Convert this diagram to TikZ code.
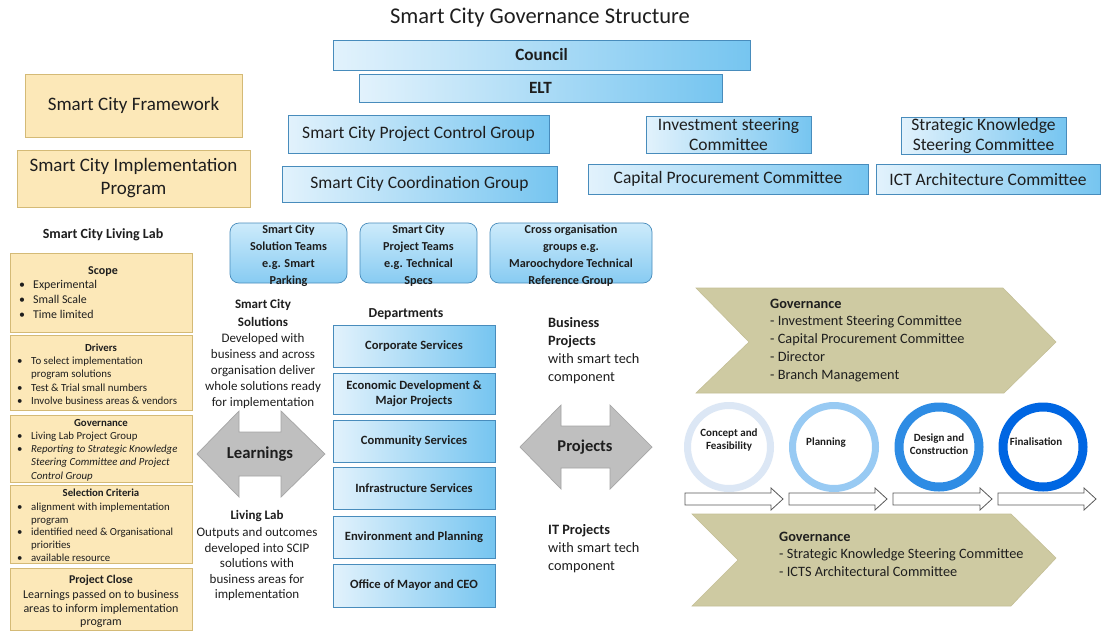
\documentclass[tikz,border=0pt]{standalone}
\usepackage{fontspec}
\setmainfont{Carlito}
\definecolor{bL}{RGB}{226,242,252}
\definecolor{bR}{RGB}{118,197,240}
\definecolor{bD}{RGB}{72,140,188}
\definecolor{tT}{RGB}{205,235,251}
\definecolor{tB}{RGB}{135,203,242}
\definecolor{yF}{RGB}{252,232,184}
\definecolor{yD}{RGB}{212,186,118}
\definecolor{gF}{RGB}{191,191,191}
\definecolor{gD}{RGB}{165,165,165}
\definecolor{oF}{RGB}{206,202,162}
\definecolor{oD}{RGB}{196,191,150}
\definecolor{cA}{RGB}{220,231,245}
\definecolor{cB}{RGB}{152,202,243}
\definecolor{cC}{RGB}{46,140,228}
\definecolor{cD}{RGB}{0,102,226}
\definecolor{txt}{RGB}{30,30,30}
\newcommand\fsz[2]{\fontsize{#1}{#2}\selectfont}
\newcommand\bul{\makebox[14pt][l]{\textbullet}}
\newcommand\ind{\hspace*{14pt}}
\begin{document}
\begin{tikzpicture}[x=1pt,y=-1pt,
  every node/.style={text=txt},
  bluebox/.style={draw=bD, line width=0.7pt, left color=bL, right color=bR, inner sep=0pt, align=center, font=\fsz{17.5}{20}},
  ybox/.style={draw=yD, line width=0.7pt, fill=yF, inner sep=0pt, align=center},
  team/.style={draw=bD, line width=0.7pt, rounded corners=9pt, top color=tT, bottom color=tB, inner sep=0pt, minimum height=60},
  teamtext/.style={align=center, inner sep=0pt, font=\bfseries\fsz{12.2}{17}},
  dept/.style={draw=bD, line width=0.7pt, left color=bL, right color=bR, minimum width=162, inner sep=0pt, align=center, font=\bfseries\fsz{12.6}{15}},
  lst/.style={anchor=north west, align=left, inner sep=0pt},
  ttl/.style={font=\bfseries\fsz{10.8}{12}, inner sep=0pt},
  bigarrow/.style={draw=gD, line width=0.7pt, fill=gF},
  hollow/.style={draw=black!65, line width=0.8pt, fill=white},
  chev/.style={draw=oD, line width=0.6pt, fill=oF},
  ring/.style={circle, inner sep=0pt, minimum size=#1},
  ctext/.style={align=center, font=\bfseries\fsz{11}{13}, inner sep=0pt}
]
\useasboundingbox[fill=white] (0,0) rectangle (1106,635);

% Title
\node[font=\fsz{22.5}{25}] (title) at (540,18) {Smart City Governance Structure};

% Governance hierarchy
\node[bluebox, minimum width=417, minimum height=30, font=\bfseries\fsz{17.2}{19}] (council) at (541.5,55) {Council};
\node[bluebox, minimum width=363, minimum height=28, font=\bfseries\fsz{17.2}{19}] (elt) at (540.5,88) {ELT};
\node[bluebox, minimum width=261, minimum height=38] (pcg) at (418.5,134) {Smart City Project Control Group};
\node[bluebox, minimum width=275, minimum height=36] (cg) at (419.5,184) {Smart City Coordination Group};
\node[bluebox, minimum width=165, minimum height=37] (isc) at (728.5,134.5) {Investment steering\\Committee};
\node[bluebox, minimum width=165, minimum height=37] (sksc) at (983.5,135.5) {Strategic Knowledge\\Steering Committee};
\node[bluebox, minimum width=280, minimum height=30] (cpc) at (728,179) {Capital Procurement Committee};
\node[bluebox, minimum width=224, minimum height=30] (ict) at (988,179) {ICT Architecture Committee};

% Framework boxes
\node[ybox, minimum width=217, minimum height=63, font=\fsz{19}{23}] (fw) at (133.5,105.5) {Smart City Framework};
\node[ybox, minimum width=233, minimum height=57, font=\fsz{19}{23}] (imp) at (133.5,178.5) {Smart City Implementation\\Program};

% Teams
\node[team, minimum width=117] (solt) at (288.5,253) {};
\node[team, minimum width=117] (prot) at (418.5,253) {};
\node[team, minimum width=162] (cross) at (571,253) {};
\node[teamtext] (soltt) at (288.5,255.5) {Smart City\\Solution Teams\\e.g. Smart\\Parking};
\node[teamtext] (prott) at (418.5,255.5) {Smart City\\Project Teams\\e.g. Technical\\Specs};
\node[teamtext] (crosst) at (571,255.5) {Cross organisation\\groups e.g.\\Maroochydore Technical\\Reference Group};

% Living lab column
\node[font=\bfseries\fsz{14}{16}] (lltitle) at (103,235) {Smart City Living Lab};
\node[ybox, minimum width=182, minimum height=79] (scope) at (101,292.5) {};
\node[ttl, font=\bfseries\fsz{12}{13}] (scopet) at (103,272) {Scope};
\node[lst, font=\fsz{11.9}{14.6}] (scopel) at (19,280.5) {\bul Experimental\\\bul Small Scale\\\bul Time limited};

\node[ybox, minimum width=182, minimum height=75] (drv) at (101,372.5) {};
\node[ttl] (drvt) at (101,348) {Drivers};
\node[lst, font=\fsz{10.9}{13.4}] (drvl) at (17,356.5) {\bul To select implementation\\\ind program solutions\\\bul Test \& Trial small numbers\\\bul Involve business areas \& vendors};

\node[ybox, minimum width=182, minimum height=67] (gov) at (101,448.5) {};
\node[ttl] (govt) at (101,423) {Governance};
\node[lst, font=\fsz{10.8}{13.1}] (govl) at (17,432) {\bul Living Lab Project Group\\\bul \textit{Reporting to Strategic Knowledge}\\\ind\textit{Steering Committee and Project}\\\ind\textit{Control Group}};

\node[ybox, minimum width=182, minimum height=78] (sel) at (101,524) {};
\node[ttl] (selt) at (101,493) {Selection Criteria};
\node[lst, font=\fsz{10.8}{12.6}] (sell) at (17,503) {\bul alignment with implementation\\\ind program\\\bul identified need \& Organisational\\\ind priorities\\\bul available resource};

\node[ybox, minimum width=182, minimum height=62] (pc) at (101,599) {};
\node[ttl, font=\bfseries\fsz{11.9}{13}] (pct) at (101,580) {Project Close};
\node[align=center, inner sep=0pt, font=\fsz{12}{13.5}] (pcl) at (101,609) {Learnings passed on to business\\areas to inform implementation\\program};

% Solutions / Living lab texts
\node[align=center, inner sep=0pt, font=\fsz{13}{16}] (sol) at (263,354) {{\bfseries Smart City}\\[2pt]{\bfseries Solutions}\\[0pt]Developed with\\business and across\\organisation deliver\\whole solutions ready\\for implementation};
\node[align=center, inner sep=0pt, font=\fsz{13}{15.5}] (ll) at (257,555.5) {{\bfseries Living Lab}\\[1.5pt]Outputs and outcomes\\developed into SCIP\\solutions with\\business areas for\\implementation};

% Learnings arrow
\draw[bigarrow] (197,454) -- (239,411) -- (239,432) -- (281,432) -- (281,411) -- (325,454) -- (281,497) -- (281,476) -- (239,476) -- (239,497) -- cycle;
\node[font=\bfseries\fsz{16.7}{18}] (learn) at (260,454) {Learnings};

% Departments
\node[font=\bfseries\fsz{13.7}{15}] (deptt) at (406,314) {Departments};
\node[dept, minimum height=42] (d1) at (414,346) {Corporate Services};
\node[dept, minimum height=41] (d2) at (414,393.5) {Economic Development \&\\Major Projects};
\node[dept, minimum height=42] (d3) at (414,441) {Community Services};
\node[dept, minimum height=42] (d4) at (414,488) {Infrastructure Services};
\node[dept, minimum height=42] (d5) at (414,537) {Environment and Planning};
\node[dept, minimum height=43] (d6) at (414,585.5) {Office of Mayor and CEO};

% Projects arrow
\draw[bigarrow] (520,447) -- (561,405) -- (561,426) -- (610,426) -- (610,405) -- (652,447) -- (610,489) -- (610,468) -- (561,468) -- (561,489) -- cycle;
\node[font=\bfseries\fsz{16.5}{18}] (proj) at (585,447) {Projects};

\node[lst, font=\fsz{14.3}{18}] (bp) at (548,317.5) {{\bfseries Business}\\{\bfseries Projects}\\with smart tech\\component};
\node[lst, font=\fsz{14.3}{18}] (itp) at (548,524.5) {{\bfseries IT Projects}\\with smart tech\\component};

% Chevrons
\draw[chev] (696,288) -- (1003,288) -- (1056,342) -- (1004,393) -- (696,393) -- (749,342) -- cycle;
\node[lst, font=\fsz{14.3}{17.8}] (govtop) at (770,298.5) {{\bfseries Governance}\\- Investment Steering Committee\\- Capital Procurement Committee\\- Director\\- Branch Management};
\draw[chev] (692,514) -- (1011,514) -- (1056,558) -- (1011,606) -- (692,606) -- (738,560) -- cycle;
\node[lst, font=\fsz{14.3}{17.5}] (govbot) at (779,531.5) {{\bfseries Governance}\\- Strategic Knowledge Steering Committee\\- ICTS Architectural Committee};

% Stage rings
\node[ring=83, draw=cA, line width=7pt] (s1) at (729,447) {};
\node[ring=83, draw=cB, line width=7pt] (s2) at (834,447) {};
\node[ring=80, draw=cC, line width=9pt] (s3) at (939,447) {};
\node[ring=80, draw=cD, line width=9pt] (s4) at (1043,447) {};
\node[ctext] (s1t) at (729,439.5) {Concept and\\Feasibility};
\node[ctext] (s2t) at (826,443) {Planning};
\node[ctext] (s3t) at (939,444) {Design and\\Construction};
\node[ctext] (s4t) at (1036,442) {Finalisation};

% Hollow arrows
\foreach \a/\b in {685/783, 789/887, 893/992, 998/1096}{
  \draw[hollow] (\a,493) -- ({\b-12},493) -- ({\b-12},488) -- (\b,499) -- ({\b-12},510) -- ({\b-12},505) -- (\a,505) -- cycle;
}
\end{tikzpicture}
\end{document}
